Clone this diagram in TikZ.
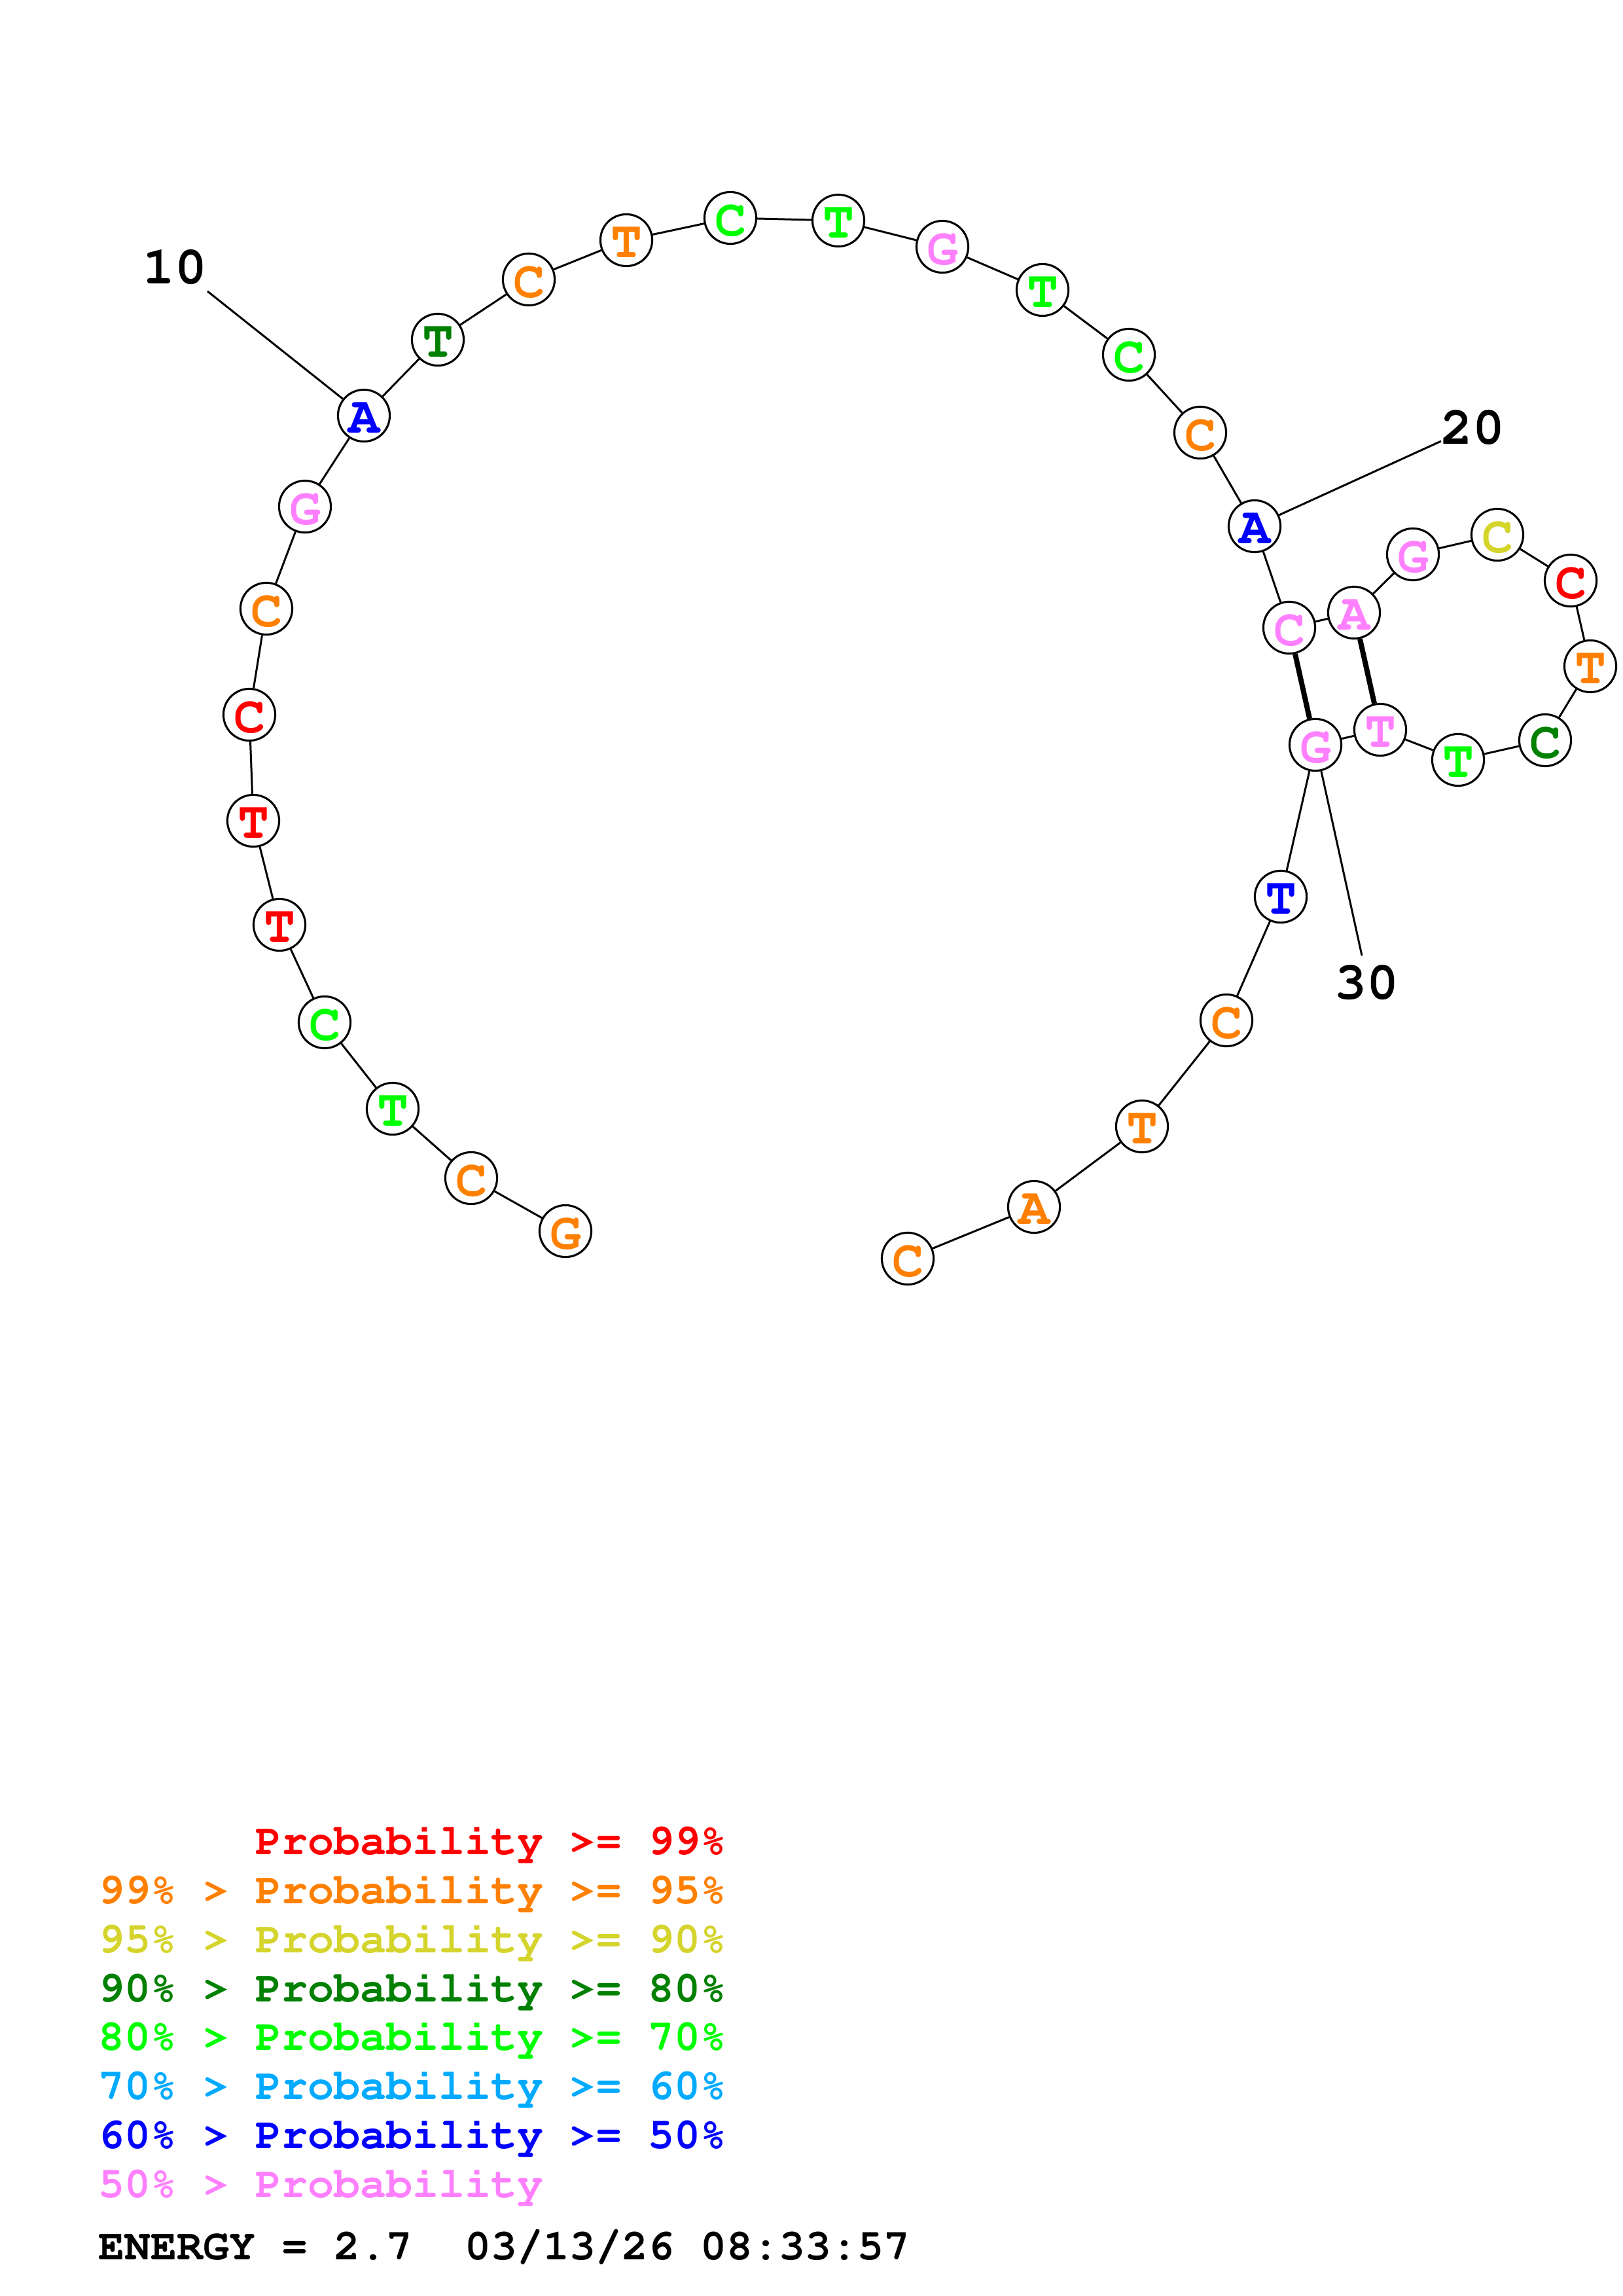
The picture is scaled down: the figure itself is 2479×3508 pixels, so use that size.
\documentclass[tikz,border=0pt]{standalone}
\usepackage[T1]{fontenc}
\newcommand{\crb}{\fontfamily{pcr}\fontseries{b}\selectfont}
\newcommand{\lowered}[1]{\raisebox{-0.96pt}[\height][\depth]{#1}}
\definecolor{cred}{HTML}{FF0000}
\definecolor{cor}{HTML}{FF8000}
\definecolor{cyel}{HTML}{D4D42C}
\definecolor{cdg}{HTML}{008000}
\definecolor{clime}{HTML}{00FF00}
\definecolor{clb}{HTML}{00AAFF}
\definecolor{cblue}{HTML}{0000FF}
\definecolor{cpink}{HTML}{FF80FF}
\tikzset{
  nuc/.style={circle, draw=black, line width=0.75pt, fill=white, inner sep=0pt,
    minimum size=19pt, font=\crb\fontsize{19.2}{20}\selectfont},
  bb/.style={line width=0.72pt, black},
  pairline/.style={line width=1.9pt, black},
  numlab/.style={inner sep=0pt, font=\crb\fontsize{19.6}{20}\selectfont},
  legend/.style={anchor=base west, inner sep=0pt, font=\crb\fontsize{16}{17}\selectfont}
}
\begin{document}
\begin{tikzpicture}[x=0.24pt,y=-0.24pt]
\useasboundingbox (0,0) rectangle (2479,3508);
\fill[white] (0,0) rectangle (2479,3508);
\foreach \i/\b/\c/\x/\y in {
 1/G/cor/864/1881, 2/C/cor/720/1800, 3/T/clime/600/1694, 4/C/clime/496/1562,
 5/T/cred/427/1413, 6/T/cred/387/1254, 7/C/cred/381/1092, 8/C/cor/407/930,
 9/G/cpink/466/774, 10/A/cblue/556/635, 11/T/cdg/669/519, 12/C/cor/808/427,
 13/T/cor/957/367, 14/C/clime/1116/333, 15/T/clime/1281/337, 16/G/cpink/1440/377,
 17/T/clime/1593/443, 18/C/clime/1725/542, 19/C/cor/1834/661, 20/A/cblue/1917/804,
 21/C/cpink/1970/959, 22/A/cpink/2069/936, 23/G/cpink/2159/847, 24/C/cyel/2288/817,
 25/C/cred/2400/887, 26/T/cor/2430/1018, 27/C/cdg/2361/1131, 28/T/clime/2228/1161,
 29/T/cpink/2109/1115, 30/G/cpink/2010/1138, 31/T/cblue/1957/1370, 32/C/cor/1874/1559,
 33/T/cor/1745/1721, 34/A/cor/1580/1844, 35/C/cor/1387/1923}
{
  \node[nuc, text=\c] (n\i) at (\x,\y) {\lowered{\b}};
}
\foreach \i in {1,...,34}{
  \pgfmathtruncatemacro{\j}{\i+1}
  \draw[bb] (n\i) -- (n\j);
}
\draw[pairline] (n21) -- (n30);
\draw[pairline] (n22) -- (n29);
% position labels
\coordinate (l10) at (317,445);
\coordinate (l20) at (2202,674);
\coordinate (l30) at (2081,1460);
\draw[bb] (n10) -- (l10);
\draw[bb] (n20) -- (l20);
\draw[bb] (n30) -- (l30);
\node[numlab] (t10) at (267,409) {10};
\node[numlab] (t20) at (2250,654) {20};
\node[numlab] (t30) at (2088,1502) {30};
% legend
\node[legend, text=cred] (g1) at (150,2833) {\hphantom{99\% > }Probability >= 99\%};
\node[legend, text=cor] (g2) at (150,2908) {99\% > Probability >= 95\%};
\node[legend, text=cyel] (g3) at (150,2983) {95\% > Probability >= 90\%};
\node[legend, text=cdg] (g4) at (150,3058) {90\% > Probability >= 80\%};
\node[legend, text=clime] (g5) at (150,3132) {80\% > Probability >= 70\%};
\node[legend, text=clb] (g6) at (150,3207) {70\% > Probability >= 60\%};
\node[legend, text=cblue] (g7) at (150,3282) {60\% > Probability >= 50\%};
\node[legend, text=cpink] (g8) at (150,3357) {50\% > Probability};
\node[legend, text=black] (g9) at (150,3452) {\frenchspacing ENERGY = 2.7\ \ 03/13/26 08:33:57};
\end{tikzpicture}
\end{document}
